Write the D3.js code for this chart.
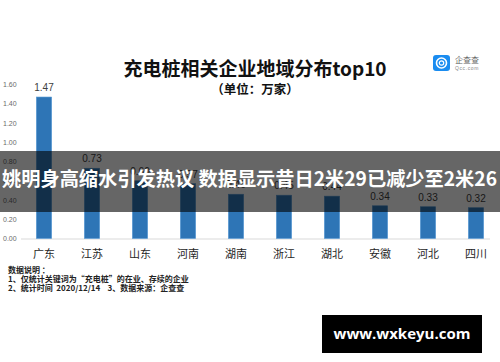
<!DOCTYPE html>
<html>
<head>
<meta charset="utf-8">
<title>充电桩相关企业地域分布top10</title>
<script src="https://cdn.jsdelivr.net/npm/d3@7/dist/d3.min.js"></script>
<style>
  body { margin: 0; background: #fff; }
  svg { display: block; font-family: "Noto Sans CJK SC", "Noto Sans", sans-serif; }
  .tick-label { font-size: 7px; fill: #6b6b6b; font-family: "Liberation Sans", Arial, sans-serif; }
  .value { font-size: 10px; fill: #404040; font-family: "Liberation Sans", Arial, sans-serif; }
  .cat { font-size: 11px; fill: #262626; }
  .note { font-size: 8px; fill: #222; font-weight: 700; white-space: pre; }
</style>
</head>
<body>
<div id="chart"></div>
<script>
var width = 500, height = 362;

// data (unit: 万家)
var provinces = ["广东", "江苏", "山东", "河南", "湖南", "浙江", "湖北", "安徽", "河北", "四川"];
var counts = [1.47, 0.73, 0.60, 0.57, 0.46, 0.45, 0.44, 0.34, 0.33, 0.32];
var yTicks = [0, 0.2, 0.4, 0.6, 0.8, 1.0, 1.2, 1.4, 1.6];
var notes = [
  "数据说明 ：",
  "1、仅统计关键词为“充电桩”的在业、存续的企业",
  "2、统计时间  2020/12/14    3、数据来源：企查查"
];

var svg = d3.select("#chart").append("svg")
  .attr("width", width)
  .attr("height", height);

var x = d3.scaleBand()
  .domain(provinces)
  .range([20, 500])
  .paddingInner(0.68)
  .paddingOuter(0.34);

var y = d3.scaleLinear()
  .domain([0, 1.6])
  .range([238.5, 84.5]);

// title
svg.append("text")
  .attr("x", 255).attr("y", 76)
  .attr("text-anchor", "middle")
  .style("font-size", "19px").style("font-weight", 700).style("fill", "#111")
  .text("充电桩相关企业地域分布top10");

svg.append("text")
  .attr("x", 255).attr("y", 94)
  .attr("text-anchor", "middle")
  .style("font-size", "12.5px").style("font-weight", 700).style("fill", "#111")
  .text("（单位：万家）");

// logo
var logo = svg.append("g").attr("transform", "translate(433,55)");
logo.append("rect")
  .attr("width", 17).attr("height", 16).attr("rx", 3)
  .attr("fill", "#1a8cf0");
logo.append("circle")
  .attr("cx", 8.5).attr("cy", 8).attr("r", 5)
  .attr("fill", "none").attr("stroke", "#fff").attr("stroke-width", 1.6);
logo.append("circle")
  .attr("cx", 8.5).attr("cy", 8).attr("r", 2.2)
  .attr("fill", "none").attr("stroke", "#fff").attr("stroke-width", 1.2);
logo.append("text")
  .attr("x", 22).attr("y", 8)
  .style("font-size", "8px").style("fill", "#666")
  .text("企查查");
logo.append("text")
  .attr("x", 22).attr("y", 15)
  .style("font-size", "5px").style("fill", "#888").style("letter-spacing", "0.6px")
  .style("font-family", "'Liberation Sans', Arial, sans-serif")
  .text("Qcc.com");

// y tick labels
svg.append("g").selectAll("text")
  .data(yTicks)
  .enter().append("text")
  .attr("class", "tick-label")
  .attr("x", 3)
  .attr("y", function(d) { return y(d) + 2.5; })
  .text(function(d) { return d.toFixed(2); });

// baseline
svg.append("line")
  .attr("x1", 21).attr("x2", 490)
  .attr("y1", y(0) + 0.5).attr("y2", y(0) + 0.5)
  .attr("stroke", "#d9d9d9").attr("stroke-width", 1);

// bars
svg.append("g").selectAll("rect")
  .data(counts)
  .enter().append("rect")
  .attr("x", function(d, i) { return x(provinces[i]); })
  .attr("y", function(d) { return y(d); })
  .attr("width", x.bandwidth())
  .attr("height", function(d) { return y(0) - y(d); })
  .attr("fill", "#2e75b6")
  .attr("stroke", "#5b9bd5")
  .attr("stroke-width", 0.6);

// value labels
svg.append("g").selectAll("text")
  .data(counts)
  .enter().append("text")
  .attr("class", "value")
  .attr("text-anchor", "middle")
  .attr("x", function(d, i) { return x(provinces[i]) + x.bandwidth() / 2; })
  .attr("y", function(d) { return y(d) - 6; })
  .text(function(d) { return d.toFixed(2); });

// category labels
svg.append("g").selectAll("text")
  .data(provinces)
  .enter().append("text")
  .attr("class", "cat")
  .attr("text-anchor", "middle")
  .attr("x", function(d) { return x(d) + x.bandwidth() / 2; })
  .attr("y", 257.5)
  .text(function(d) { return d; });

// notes
svg.append("g").selectAll("text")
  .data(notes)
  .enter().append("text")
  .attr("class", "note")
  .attr("x", 8)
  .attr("y", function(d, i) { return 273 + i * 9.2; })
  .text(function(d) { return d; });

// news headline band over the chart
svg.append("rect")
  .attr("x", 0).attr("y", 151)
  .attr("width", width).attr("height", 61)
  .attr("fill", "#000").attr("fill-opacity", 0.6);

svg.append("text")
  .attr("x", 2).attr("y", 186)
  .attr("textLength", 495).attr("lengthAdjust", "spacingAndGlyphs")
  .style("font-size", "19.5px").style("font-weight", 700).style("fill", "#fff")
  .text("姚明身高缩水引发热议 数据显示昔日2米29已减少至2米26");

// site tag
svg.append("rect")
  .attr("x", 322).attr("y", 315)
  .attr("width", 160).attr("height", 38)
  .attr("fill", "#000");

svg.append("text")
  .attr("x", 402).attr("y", 339)
  .attr("text-anchor", "middle")
  .style("font-size", "15px").style("font-weight", 700).style("fill", "#fff")
  .style("font-family", "'Open Sans', 'DejaVu Sans', sans-serif")
  .text("www.wxkeyu.com");
</script>
</body>
</html>
